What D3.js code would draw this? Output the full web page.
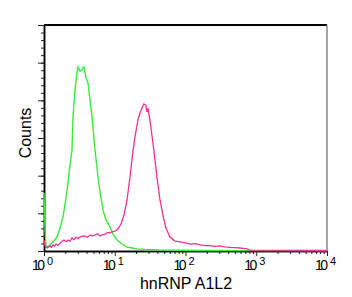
<!DOCTYPE html>
<html>
<head>
<meta charset="utf-8">
<script src="https://cdn.jsdelivr.net/npm/d3@7"></script>
<style>
  body { margin: 0; background: #fff; }
  svg { display: block; font-family: "Liberation Sans", Arial, sans-serif; }
</style>
</head>
<body>
<svg id="chart"></svg>
<script>
// intensity (log channel) and counts for the isotype control (green)
let greenX = [1, 1.033, 1.067, 1.139, 1.216, 1.34, 1.527, 1.684, 1.856, 2.046, 2.184, 2.331, 2.487, 2.57, 2.743, 2.928,
  3.024, 3.228, 3.444, 3.676, 3.923, 4.187, 4.469, 4.769, 5.258, 5.799, 6.187, 6.823, 7.52, 8.567, 9.447,
  10.76, 12.66, 14.9, 17.53, 20.63, 26.77, 43.6, 160, 817, 10000]
let greenY = [30.8, 11.2, 2.7, 2.1, 3.2, 4.8, 7.4, 12.2, 18.1, 28.1, 36.1, 45.7, 53.6, 71.2, 85.5, 95.0,
  97.7, 95.6, 96.1, 97.7, 91.9, 89.2, 80.2, 71.2, 53.6, 39.3, 31.3, 21.8, 16.5, 12.7, 9.0,
  5.8, 3.7, 2.1, 1.6, 1.1, 0.8, 0.5, 0.3, 0.2, 0.1]

// hnRNP A1L2 stained sample (magenta)
let pinkX = [1, 1.033, 1.103, 1.216, 1.28, 1.34, 1.41, 1.478, 1.58, 1.684, 1.8, 1.917, 2.05, 2.184, 2.33, 2.487, 2.65, 2.833,
  3.02, 3.228, 3.5, 3.797, 4.1, 4.469, 4.85, 5.258, 5.7, 6.187, 6.7, 7.28, 7.9, 8.567, 9.3, 10.08, 11.11, 12.26, 13.52,
  14.9, 16.44, 18.13, 19.29, 21.27, 22.68, 24.2, 25.8, 27.5, 28.5, 29.4, 31.4, 33.5, 35.7, 39.4, 43.6, 48.0, 52.9,
  60.3, 71.1, 83.9, 100, 116, 140, 160, 190, 222, 260, 307, 360, 424, 500, 586, 739, 817, 10000]
let pinkY = [5.8, 2.7, 1.6, 2.7, 2.0, 3.2, 2.6, 3.7, 3.0, 4.2, 5.2, 5.8, 4.9, 5.8, 5.2, 6.9, 6.0, 7.4,
  6.6, 7.4, 7.9, 8.0, 7.2, 8.5, 7.9, 8.5, 9.1, 8.0, 8.6, 9.0, 9.7, 9.6, 10.3, 10.6, 11.7, 14.3, 19.1,
  27.1, 39.3, 53.6, 60.5, 69.6, 73.3, 75.9, 78.1, 77.5, 73.8, 75.9, 69.6, 61.6, 53.6, 39.3, 27.1, 19.1, 12.2,
  7.4, 5.3, 4.8, 4.3, 3.7, 3.9, 3.2, 2.9, 2.9, 2.5, 2.7, 2.2, 1.9, 1.8, 1.6, 1.1, 0.5, 0.3]

let xMajor = [1, 10, 100, 1000, 10000]
let xExp = ["0", "1", "2", "3", "4"]
let yMajor = [0, 20, 40, 60, 80, 100, 120]

let width = 352
let height = 297
let padLeft = 44, padRight = 327, padTop = 25, padBottom = 251

let svg = d3.select("#chart").attr("width", width).attr("height", height)

let xScale = d3.scaleLog().domain([1, 10000]).range([padLeft, padRight])
let yScale = d3.scaleLinear().domain([0, 120]).range([padBottom, padTop])

let xMinor = []
for (let d = 1; d < 10000; d *= 10) {
  for (let k = 2; k < 10; k++) xMinor.push(d * k)
}
let yMinor = d3.range(0, 121, 4)

// axes
svg.append("g")
   .attr("transform", "translate(0," + padBottom + ")")
   .call(d3.axisBottom(xScale).tickValues(xMinor).tickSize(3).tickSizeOuter(0).tickFormat(""))
svg.append("g")
   .attr("transform", "translate(0," + padBottom + ")")
   .call(d3.axisBottom(xScale).tickValues(xMajor).tickSize(5).tickSizeOuter(0).tickFormat(""))
svg.append("g")
   .attr("transform", "translate(" + padLeft + ",0)")
   .call(d3.axisLeft(yScale).tickValues(yMinor).tickSize(3).tickSizeOuter(0).tickFormat(""))
svg.append("g")
   .attr("transform", "translate(" + padLeft + ",0)")
   .call(d3.axisLeft(yScale).tickValues(yMajor).tickSize(6).tickSizeOuter(0).tickFormat(""))

svg.selectAll(".domain").attr("stroke", "#000").attr("stroke-width", 1.5)
svg.selectAll(".tick line").attr("stroke", "#222")

// top and right frame
svg.append("line")
   .attr("x1", xScale(1)).attr("x2", xScale(10000))
   .attr("y1", yScale(120)).attr("y2", yScale(120))
   .attr("stroke", "#000").attr("stroke-width", 2)
svg.append("line")
   .attr("x1", xScale(10000)).attr("x2", xScale(10000))
   .attr("y1", yScale(120)).attr("y2", yScale(0))
   .attr("stroke", "#888").attr("stroke-width", 1.5)

// x tick labels 10^n
let labels = svg.append("g")
xMajor.forEach((v, i) => {
  labels.append("text")
     .attr("x", xScale(v) + 1)
     .attr("y", 270)
     .attr("text-anchor", "end")
     .style("font-size", "14px")
     .attr("textLength", 13)
     .text("10")
  labels.append("text")
     .attr("x", xScale(v) + 3)
     .attr("y", 265)
     .style("font-size", "11px")
     .text(xExp[i])
})

svg.append("text")
   .attr("x", 186)
   .attr("y", 289)
   .attr("text-anchor", "middle")
   .style("font-size", "16px")
   .text("hnRNP A1L2")

svg.append("text")
   .attr("transform", "translate(31,133) rotate(-90)")
   .attr("text-anchor", "middle")
   .style("font-size", "16px")
   .text("Counts")

let line = d3.line()
  .x(d => xScale(d[0]))
  .y(d => yScale(d[1]))

svg.append("path")
   .datum(greenX.map((x, i) => [x, greenY[i]]))
   .attr("d", line)
   .attr("fill", "none")
   .attr("stroke", "#3de83d")
   .attr("stroke-width", 1.4)

svg.append("path")
   .datum(pinkX.map((x, i) => [x, pinkY[i]]))
   .attr("d", line)
   .attr("fill", "none")
   .attr("stroke", "#f0309a")
   .attr("stroke-width", 1.3)
</script>
</body>
</html>
